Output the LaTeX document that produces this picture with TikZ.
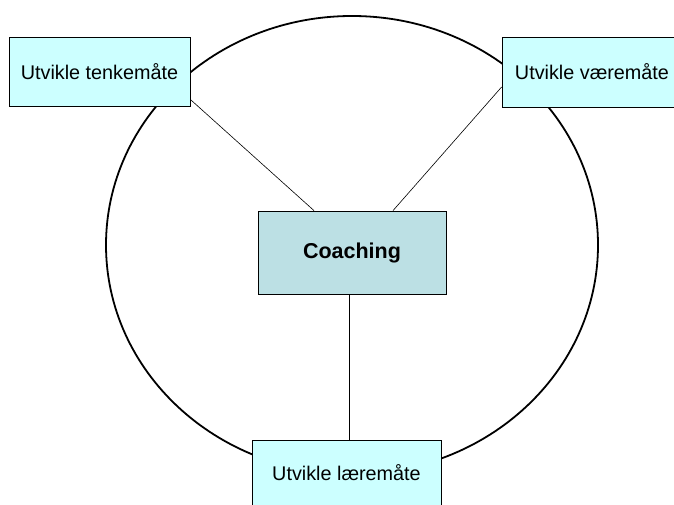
\documentclass[tikz,border=0pt]{standalone}
\usepackage{fontspec}
\setmainfont{Liberation Sans}
\usetikzlibrary{calc}
\definecolor{boxcyan}{RGB}{204,255,255}
\definecolor{boxteal}{RGB}{188,224,228}
\begin{document}
\begin{tikzpicture}[x=1pt,y=-1pt,
  outerbox/.style={draw=black, line width=0.8pt, fill=boxcyan, inner sep=0pt,
    font=\fontsize{19.8}{22}\selectfont},
  corebox/.style={draw=black, line width=0.8pt, fill=boxteal, inner sep=0pt,
    font=\fontsize{21.5}{24}\selectfont\bfseries},
  link/.style={draw=black, line width=0.6pt}]
\useasboundingbox (0,0) rectangle (674,505);
\clip (0,0) rectangle (674,505);
\draw[line width=1.8pt] (352,245) ellipse [x radius=246, y radius=229];
\node[corebox, minimum width=188pt, minimum height=83pt] (c) at (352,252.5) {Coaching};
\node[outerbox, minimum width=181pt, minimum height=69pt] (tl) at (99.5,71.5) {Utvikle tenkemåte};
\node[outerbox, minimum width=180pt, minimum height=70pt] (tr) at (592,72) {Utvikle væremåte};
\node[outerbox, minimum width=189pt, minimum height=66pt] (b) at (346.5,473) {Utvikle læremåte};
\draw[link] ($(tl.east)+(0,28)$) -- ($(c.north)+(-38,0)$);
\draw[link] ($(tr.west)+(0,15)$) -- ($(c.north)+(41,0)$);
\draw[link] ($(c.south)+(-3,0)$) -- ($(b.north)+(2.5,0)$);
\end{tikzpicture}
\end{document}
